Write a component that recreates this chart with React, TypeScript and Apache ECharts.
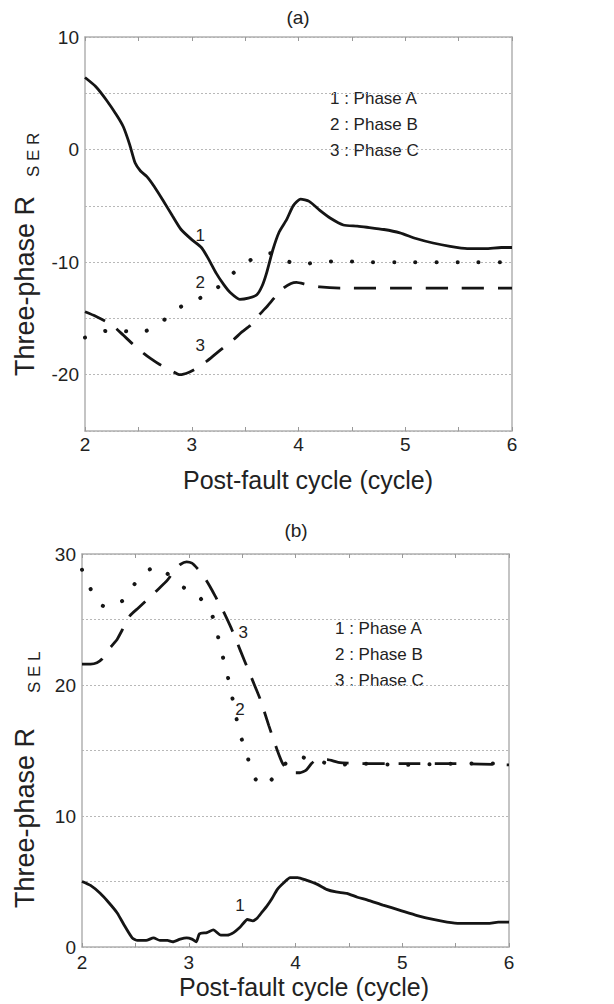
import React, { useEffect, useRef } from "react";
import * as echarts from "echarts";

// ---------- Data ----------
const xTicks = [2, 3, 4, 5, 6];
const topYLabels = [10, 0, -10, -20];
const bottomYLabels = [30, 20, 10, 0];
const legendLines = ["1 : Phase A", "2 : Phase B", "3 : Phase C"];

// (a) Three-phase R_SER
const topPhaseA: [number, number][] = [
  [2.0, 6.4], [2.1, 5.6], [2.2, 4.4], [2.3, 3.0], [2.36, 2.0], [2.42, 0.4], [2.47, -1.2],
  [2.52, -1.9], [2.58, -2.4], [2.65, -3.3], [2.73, -4.5], [2.82, -5.9], [2.9, -7.1],
  [3.0, -8.0], [3.09, -8.7], [3.15, -9.6], [3.23, -11.0], [3.3, -12.0], [3.36, -12.7],
  [3.45, -13.3], [3.53, -13.2], [3.61, -12.9], [3.66, -12.1], [3.7, -11.0], [3.76, -8.9],
  [3.82, -7.3], [3.89, -6.2], [3.95, -5.0], [4.02, -4.4], [4.1, -4.6], [4.2, -5.4],
  [4.3, -6.1], [4.42, -6.7], [4.55, -6.8], [4.64, -6.9], [4.8, -7.1], [4.95, -7.4],
  [5.1, -7.9], [5.26, -8.3], [5.42, -8.6], [5.58, -8.8], [5.75, -8.8], [5.9, -8.7], [6.0, -8.7],
];
const topPhaseB: [number, number][] = [
  [2.0, -16.7], [2.1, -16.4], [2.2, -16.1], [2.35, -16.1], [2.5, -16.3], [2.6, -16.0],
  [2.72, -15.3], [2.87, -14.1], [3.03, -13.4], [3.2, -12.6], [3.35, -11.3], [3.5, -10.1],
  [3.66, -9.3], [3.75, -9.2], [3.83, -9.6], [3.92, -10.0], [4.01, -10.2], [4.2, -10.0],
  [4.4, -9.9], [4.6, -10.0], [5.0, -10.0], [5.5, -10.0], [6.0, -10.0],
];
const topPhaseC: [number, number][] = [
  [2.0, -14.4], [2.1, -14.8], [2.2, -15.3], [2.28, -15.8], [2.36, -16.5], [2.45, -17.3],
  [2.55, -18.1], [2.62, -18.6], [2.7, -19.1], [2.8, -19.6], [2.89, -20.0], [2.97, -19.8],
  [3.05, -19.4], [3.14, -18.8], [3.23, -18.1], [3.31, -17.5], [3.39, -16.9], [3.47, -16.2],
  [3.55, -15.6], [3.62, -14.8], [3.7, -14.0], [3.78, -13.1], [3.86, -12.3], [3.93, -11.9],
  [3.98, -11.8], [4.08, -12.0], [4.2, -12.2], [4.4, -12.3], [5.0, -12.3], [5.5, -12.3], [6.0, -12.3],
];

// (b) Three-phase R_SEL
const bottomPhaseA: [number, number][] = [
  [2.0, 5.0], [2.08, 4.7], [2.17, 4.1], [2.25, 3.4], [2.33, 2.6], [2.4, 1.6], [2.47, 0.7],
  [2.52, 0.5], [2.6, 0.5], [2.67, 0.7], [2.73, 0.5], [2.8, 0.5], [2.85, 0.4], [2.92, 0.6],
  [2.98, 0.7], [3.03, 0.6], [3.07, 0.4], [3.1, 1.0], [3.17, 1.1], [3.23, 1.3], [3.3, 0.9],
  [3.36, 0.9], [3.42, 1.1], [3.48, 1.5], [3.55, 2.1], [3.6, 2.0], [3.64, 2.2], [3.69, 2.7],
  [3.73, 3.1], [3.78, 3.7], [3.83, 4.4], [3.89, 4.9], [3.95, 5.3], [4.02, 5.3], [4.1, 5.1],
  [4.2, 4.8], [4.29, 4.4], [4.38, 4.2], [4.48, 4.1], [4.58, 3.8], [4.67, 3.6], [4.82, 3.2],
  [4.98, 2.8], [5.14, 2.4], [5.29, 2.1], [5.42, 1.9], [5.54, 1.8], [5.68, 1.8], [5.8, 1.8],
  [5.9, 1.9], [6.0, 1.9],
];
const bottomPhaseB: [number, number][] = [
  [2.0, 28.8], [2.05, 27.9], [2.1, 27.0], [2.17, 26.2], [2.23, 25.9], [2.31, 26.1],
  [2.39, 26.5], [2.45, 27.2], [2.51, 27.9], [2.58, 28.5], [2.65, 28.9], [2.72, 29.0],
  [2.8, 28.5], [2.88, 27.9], [2.96, 27.4], [3.03, 27.2], [3.1, 26.7], [3.17, 26.0],
  [3.23, 25.1], [3.28, 23.5], [3.33, 21.8], [3.39, 19.8], [3.43, 18.1], [3.48, 16.3],
  [3.55, 14.5], [3.62, 12.9], [3.68, 12.3], [3.73, 12.4], [3.8, 13.0], [3.88, 13.8],
  [3.95, 14.3], [4.02, 14.6], [4.1, 14.4], [4.2, 14.2], [4.39, 13.9], [4.6, 14.0],
  [5.0, 13.9], [5.5, 14.0], [6.0, 14.0],
];
const bottomPhaseC: [number, number][] = [
  [2.0, 21.6], [2.08, 21.6], [2.14, 21.7], [2.19, 22.0], [2.23, 22.5], [2.28, 23.0],
  [2.33, 23.5], [2.39, 24.4], [2.45, 25.3], [2.53, 25.9], [2.61, 26.5], [2.7, 27.2],
  [2.8, 28.0], [2.87, 28.8], [2.92, 29.2], [2.98, 29.4], [3.03, 29.3], [3.08, 28.9],
  [3.14, 28.3], [3.2, 27.5], [3.26, 26.6], [3.32, 25.7], [3.4, 24.3], [3.48, 22.7],
  [3.57, 20.9], [3.67, 18.9], [3.75, 16.9], [3.83, 15.0], [3.88, 14.0], [3.93, 13.5],
  [3.98, 13.3], [4.04, 13.3], [4.1, 13.5], [4.15, 14.0], [4.2, 14.3], [4.3, 14.3],
  [4.4, 14.1], [4.6, 14.0], [5.0, 14.0], [5.5, 14.0], [6.0, 13.9],
];

// curve-number annotations (data coordinates)
const topCurveLabels: { text: string; at: [number, number] }[] = [
  { text: "1", at: [3.08, -7.6] },
  { text: "2", at: [3.08, -11.8] },
  { text: "3", at: [3.08, -17.4] },
];
const bottomCurveLabels: { text: string; at: [number, number] }[] = [
  { text: "1", at: [3.48, 3.2] },
  { text: "2", at: [3.48, 18.1] },
  { text: "3", at: [3.51, 24.0] },
];

const FONT = "'Liberation Sans', Arial, Helvetica, sans-serif";
const INK = "#151515";

function App() {
  const ref = useRef<HTMLDivElement>(null);

  useEffect(() => {
    if (!ref.current) return;
    const chart = echarts.init(ref.current, undefined, { renderer: "svg" });

    const axisLine = { show: true, onZero: false, lineStyle: { color: "#b0b0b0", width: 1.5 } };

    const xAxisBase = (gridIndex: number, labelMargin: number) => ({
      type: "value",
      gridIndex,
      min: 2,
      max: 6,
      interval: 0.5,
      axisLine,
      axisTick: { show: true, inside: true, length: 4, lineStyle: { color: "#999" } },
      axisLabel: {
        margin: labelMargin,
        fontSize: 19,
        fontFamily: FONT,
        color: "#222",
        formatter: (v: number) => (xTicks.includes(v) ? String(v) : ""),
      },
      splitLine: { show: false },
    });
    const xAxisTop = (gridIndex: number) => ({
      type: "value",
      gridIndex,
      position: "top",
      min: 2,
      max: 6,
      interval: 0.5,
      axisLine,
      axisTick: { show: true, inside: true, length: 4, lineStyle: { color: "#999" } },
      axisLabel: { show: false },
      splitLine: { show: false },
    });
    const yAxisBase = (gridIndex: number, min: number, max: number, labels: number[]) => ({
      type: "value",
      gridIndex,
      min,
      max,
      interval: 5,
      axisLine,
      axisTick: { show: false },
      axisLabel: {
        margin: 6,
        fontSize: 19,
        fontFamily: FONT,
        color: "#222",
        formatter: (v: number) => (labels.includes(v) ? String(v) : ""),
      },
      splitLine: { show: true, lineStyle: { color: "#b8b8b8", type: [2, 2], width: 1 } },
    });
    const yAxisRight = (gridIndex: number, min: number, max: number) => ({
      type: "value",
      gridIndex,
      position: "right",
      min,
      max,
      interval: 5,
      axisLine,
      axisTick: { show: false },
      axisLabel: { show: false },
      splitLine: { show: false },
    });

    const solid = { color: INK, width: 2.8, type: "solid" };
    const dotted = { color: INK, width: 4, type: [0.1, 21], cap: "round" };
    const dashed = { color: INK, width: 2.8, type: [22, 14] };

    const annotate = (items: { text: string; at: [number, number] }[]) => ({
      symbol: "circle",
      symbolSize: 1,
      silent: true,
      itemStyle: { color: "rgba(0,0,0,0)" },
      label: {
        show: true,
        position: "inside",
        fontSize: 17,
        fontFamily: FONT,
        color: "#222",
      },
      data: items.map((it) => ({
        coord: it.at,
        value: it.text,
        label: { show: true, formatter: it.text },
      })),
    });

    const mk = (
      name: string,
      data: [number, number][],
      lineStyle: any,
      axisIdx: number,
      markPoint?: any
    ) => ({
      name,
      type: "line",
      xAxisIndex: axisIdx * 2,
      yAxisIndex: axisIdx * 2,
      data,
      showSymbol: false,
      symbol: "none",
      smooth: 0.2,
      lineStyle,
      z: 3,
      ...(markPoint ? { markPoint } : {}),
    });

    const legendText = (x: number, y: number) =>
      legendLines.map((t, i) => ({
        type: "text",
        x,
        y: y + i * 26,
        style: {
          text: t,
          font: `17px ${FONT}`,
          fill: "#222",
          verticalAlign: "middle",
        },
      }));

    const yName = (x: number, yStart: number, subX: number, subY: number, sub: string) => [
      {
        type: "text",
        x,
        y: yStart,
        rotation: Math.PI / 2,
        style: {
          text: "Three-phase R",
          font: `27px ${FONT}`,
          fill: "#222",
          align: "left",
          verticalAlign: "middle",
        },
      },
      {
        type: "text",
        x: subX,
        y: subY,
        rotation: Math.PI / 2,
        style: {
          text: sub,
          font: `17px ${FONT}`,
          fill: "#222",
          align: "left",
          verticalAlign: "middle",
        },
      },
    ];

    const option: any = {
      animation: false,
      backgroundColor: "#ffffff",
      grid: [
        { left: 85, right: 102, top: 37, height: 394, show: false },
        { left: 82, right: 105, top: 554, height: 393, show: false },
      ],
      xAxis: [xAxisBase(0, 4), xAxisTop(0), xAxisBase(1, 6), xAxisTop(1)],
      yAxis: [
        yAxisBase(0, -25, 10, topYLabels),
        yAxisRight(0, -25, 10),
        yAxisBase(1, 0, 30, bottomYLabels),
        yAxisRight(1, 0, 30),
      ],
      series: [
        mk("Phase A", topPhaseA, solid, 0, annotate(topCurveLabels)),
        mk("Phase B", topPhaseB, dotted, 0),
        mk("Phase C", topPhaseC, dashed, 0),
        mk("Phase A (b)", bottomPhaseA, solid, 1, annotate(bottomCurveLabels)),
        mk("Phase B (b)", bottomPhaseB, dotted, 1),
        mk("Phase C (b)", bottomPhaseC, dashed, 1),
      ],
      graphic: [
        {
          type: "text",
          x: 298,
          y: 17,
          style: { text: "(a)", font: `19px ${FONT}`, fill: "#222", align: "center", verticalAlign: "middle" },
        },
        {
          type: "text",
          x: 296,
          y: 530,
          style: { text: "(b)", font: `19px ${FONT}`, fill: "#222", align: "center", verticalAlign: "middle" },
        },
        {
          type: "text",
          x: 308,
          y: 480,
          style: {
            text: "Post-fault cycle (cycle)",
            font: `25px ${FONT}`,
            fill: "#222",
            align: "center",
            verticalAlign: "middle",
          },
        },
        {
          type: "text",
          x: 304,
          y: 987,
          style: {
            text: "Post-fault cycle (cycle)",
            font: `25px ${FONT}`,
            fill: "#222",
            align: "center",
            verticalAlign: "middle",
          },
        },
        ...yName(25, 376, 33, 177, "S E R"),
        ...yName(25, 908, 34, 693, "S E L"),
        ...legendText(330, 98),
        ...legendText(335, 628),
      ],
    };

    chart.setOption(option);
    return () => chart.dispose();
  }, []);

  return (
    <div
      ref={ref}
      style={{ position: "absolute", left: 0, top: 0, width: 614, height: 1004, background: "#fff" }}
    />
  );
}

export default App;
